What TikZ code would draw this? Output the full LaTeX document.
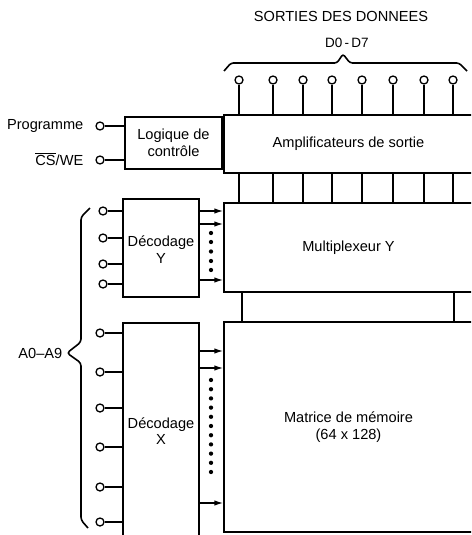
\documentclass[tikz,border=0pt]{standalone}
\usepackage{fontspec}
\setmainfont{Liberation Sans}
\usetikzlibrary{arrows.meta}
\newcommand\fsz{\fontsize{14.6}{16.5}\selectfont}
\newcommand\fsm{\fontsize{13.5}{15}\selectfont}
\begin{document}
\begin{tikzpicture}[x=1pt,y=-1pt, line width=1.4pt,
  blk/.style={draw, rectangle, inner sep=0pt, align=center, font=\fsz},
  pin/.style={draw, circle, minimum size=8pt, inner sep=0pt, line width=1.3pt, fill=white},
  arr/.style={-{Latex[length=9pt,width=5.5pt]}},
  dotn/.style={circle, fill, inner sep=0pt, minimum size=4.3pt},
  lbl/.style={font=\fsz, inner sep=0pt},
  brace/.style={line width=1.6pt}]
\useasboundingbox (0,0) rectangle (471,535);
\clip (0,0) rectangle (471,535);

% main blocks
\node[blk, minimum width=249pt, minimum height=58pt] (amp) at (348.5,144) {Amplificateurs de sortie};
\node[blk, minimum width=249pt, minimum height=89pt] (mux) at (348.5,247.5) {Multiplexeur Y};
\node[blk, minimum width=249pt, minimum height=210pt] (mat) at (348.5,427) {Matrice de m\'emoire\\(64 x 128)};
\node[blk, minimum width=97pt, minimum height=52pt] (logic) at (173.5,143) {Logique de\\contr\^ole};
\node[blk, minimum width=76pt, minimum height=98pt] (decY) at (161,248) {\\[-3pt]D\'ecodage\\Y};
\node[blk, minimum width=76pt, minimum height=216pt] (decX) at (161,431) {D\'ecodage\\X};

% titles
\node[lbl] (title) at (341,16) {SORTIES DES DONNEES};
\node[inner sep=0pt, font=\fsm] (dlab) at (347,43) {D0\,-\,D7};
\draw[brace, rounded corners=2.5pt] (224,71) -- (231,63) -- (337,63) -- (343,54) -- (350,63) -- (459,63) -- (467,71);

% control inputs
\node[pin] (pp) at (100,126) {};
\node[pin] (pc) at (100,160) {};
\node[lbl, anchor=east] (lprog) at (84,126) {Programme};
\node[lbl, anchor=east] (lcs) at (84,159) {$\overline{\hbox{CS}}$/WE};
\draw (pp.east) -- (pp.east -| logic.west);
\draw (pc.east) -- (pc.east -| logic.west);
\draw (logic.east) -- (logic.east -| amp.west);

% outputs and amp-mux links
\foreach \x [count=\i] in {239,273,303,332,362,393,424,453} {
  \node[pin] (o\i) at (\x,80) {};
  \draw (o\i.south) -- (o\i.south |- amp.north);
  \draw (o\i |- amp.south) -- (o\i |- mux.north);
}

% mux-matrix links
\coordinate (m1) at (242,292);
\coordinate (m2) at (454,292);
\draw (m1 |- mux.south) -- (m1 |- mat.north);
\draw (m2 |- mux.south) -- (m2 |- mat.north);

% Y decoder inputs
\foreach \y [count=\i] in {211,238,264,284} {
  \node[pin] (yi\i) at (103,\y) {};
  \draw (yi\i.east) -- (yi\i.east -| decY.west);
}
% X decoder inputs
\foreach \y [count=\i] in {333,372,408,447,487,522} {
  \node[pin] (xi\i) at (100,\y) {};
  \draw (xi\i.east) -- (xi\i.east -| decX.west);
}

% decoder outputs
\foreach \y in {211,224,280} {
  \draw[arr] (decY.east |- 0,\y) -- (mux.west |- 0,\y);
}
\foreach \y [count=\i] in {233,242,251.5,261,270} {
  \node[dotn] (dy\i) at (211,\y) {};
}
\foreach \y in {351,368,503} {
  \draw[arr] (decX.east |- 0,\y) -- (mat.west |- 0,\y);
}
\foreach \i in {0,...,10} {
  \node[dotn] (dx\i) at (211,{380+9.2*\i}) {};
}

% address brace
\draw[brace, rounded corners=3pt] (90,208) -- (81,217) -- (81,342) -- (67,353) -- (81,363) -- (81,520) -- (88,528);
\node[lbl, anchor=east] (la) at (63,353) {A0--A9};
\end{tikzpicture}
\end{document}
